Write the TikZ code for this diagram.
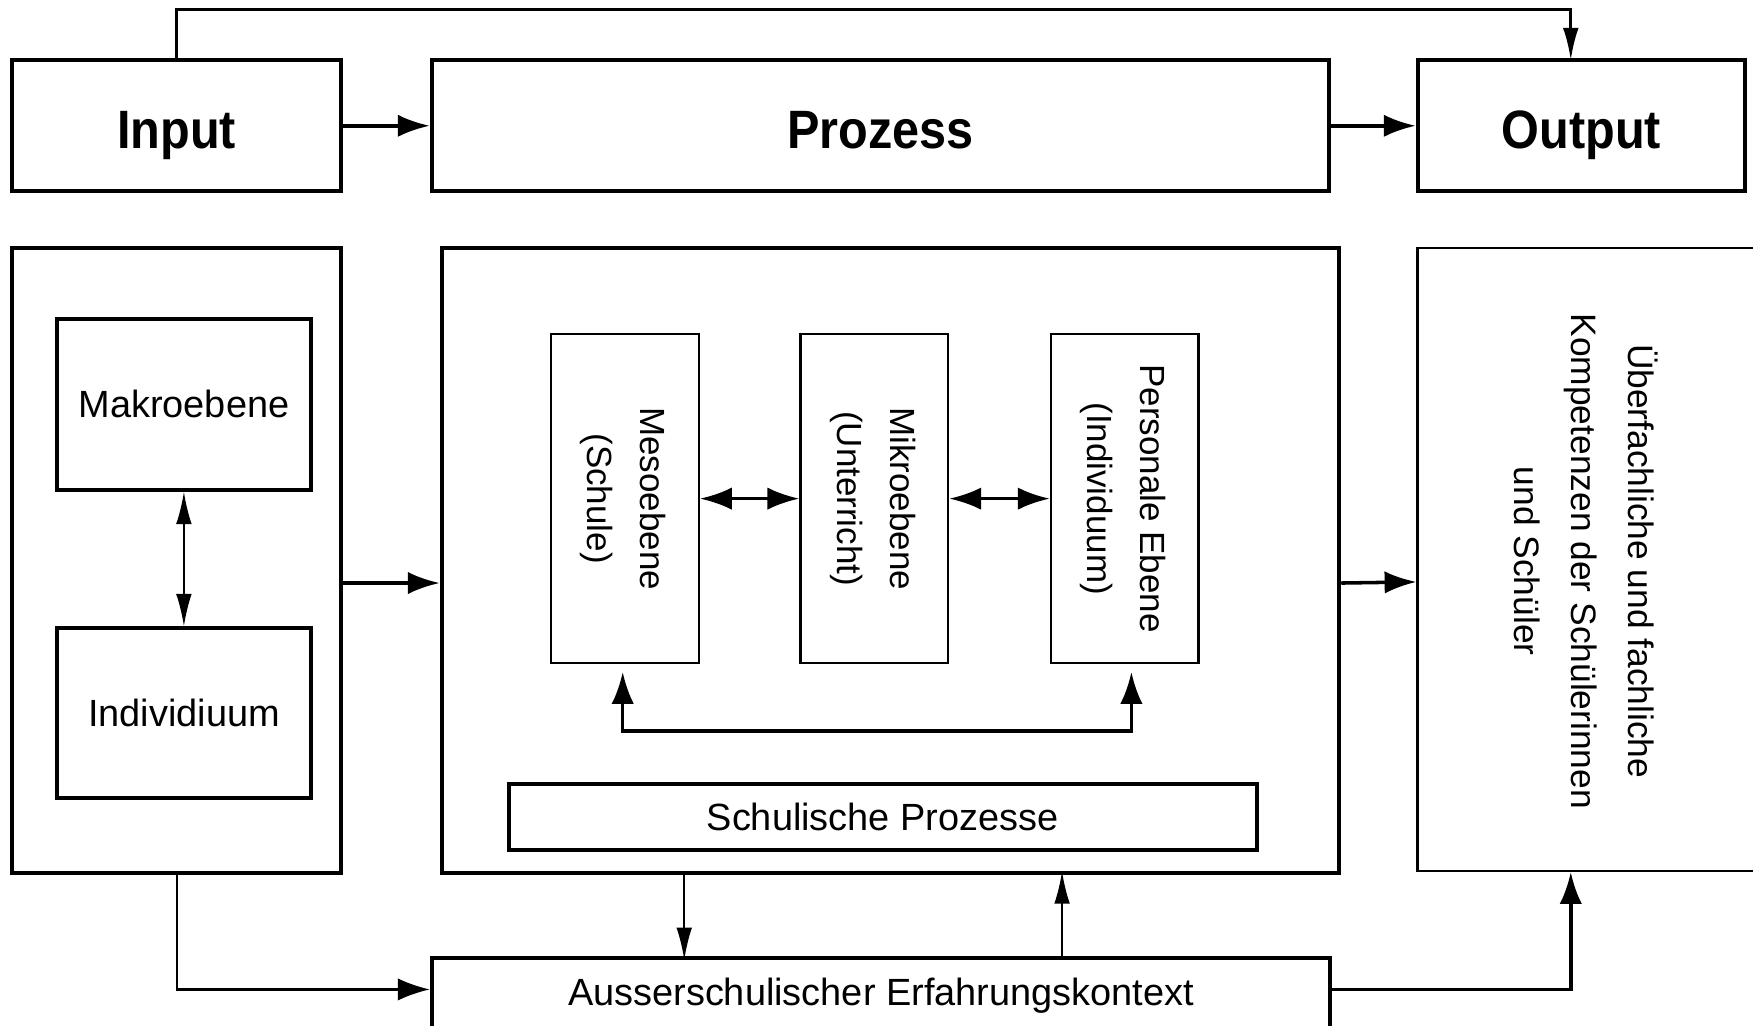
\documentclass[tikz,border=0pt]{standalone}
\usepackage{fontspec}
\setmainfont{Liberation Sans}
\newfontfamily\headfont[FakeStretch=0.9]{Liberation Sans Bold}
\usetikzlibrary{arrows.meta}

\begin{document}
\begin{tikzpicture}[x=0.02cm,y=-0.02cm,
  box/.style={draw,line width=2pt,inner sep=0pt,align=center},
  ebox/.style={draw,line width=1.2pt,inner sep=0pt,align=center},
  fat/.style={line width=1.8pt,>={Latex[length=0.57cm,width=0.4cm]}},
  slim/.style={line width=1.1pt,>={Latex[length=0.58cm,width=0.28cm]}},
  headtext/.style={font=\headfont\fontsize{27.5}{32}\selectfont,text height=23pt,text depth=0pt},
  bodytext/.style={font=\fontsize{19.3}{23}\selectfont},
  vtext/.style={font=\fontsize{17.8}{27}\selectfont},
  wtext/.style={font=\fontsize{18}{29}\selectfont}]
  \useasboundingbox (0,0) rectangle (1568,917);
  \node[box,headtext,minimum width=5.88cm,minimum height=2.34cm] (input) at (158,112.5) {Input};
  \node[box,headtext,minimum width=16.06cm,minimum height=2.34cm] (prozess) at (787.5,112.5) {Prozess};
  \node[box,headtext,minimum width=5.86cm,minimum height=2.34cm] (output) at (1414.5,112.5) {Output};
  \node[box,minimum width=5.88cm,minimum height=11.18cm] (inframe) at (158,501.5) {};
  \node[box,bodytext,minimum width=4.54cm,minimum height=3.06cm] (makro) at (164.5,361.5) {Makroebene};
  \node[box,bodytext,minimum width=4.54cm,minimum height=3.04cm] (indiv) at (164.5,638) {Individiuum};
  \node[box,minimum width=16.06cm,minimum height=11.18cm] (procframe) at (796.5,501.5) {};
  \node[ebox,vtext,minimum width=2.64cm,minimum height=5.88cm] (meso) at (559,446)
    {\rotatebox{-90}{\begin{tabular}{@{}c@{}}Mesoebene\\(Schule)\end{tabular}}};
  \node[ebox,vtext,minimum width=2.64cm,minimum height=5.88cm] (mikro) at (782,446)
    {\rotatebox{-90}{\begin{tabular}{@{}c@{}}Mikroebene\\(Unterricht)\end{tabular}}};
  \node[ebox,vtext,minimum width=2.64cm,minimum height=5.88cm] (person) at (1006,446)
    {\rotatebox{-90}{\begin{tabular}{@{}c@{}}Personale Ebene\\(Individuum)\end{tabular}}};
  \node[box,bodytext,minimum width=13.38cm,minimum height=1.18cm] (schul) at (789.5,730.5) {Schulische Prozesse};
  \node[ebox,minimum width=6.64cm,minimum height=11.14cm] (outframe) at (1434,500.5) {};
  \node[wtext,inner sep=0pt] (outtext) at (1416,502)
    {\rotatebox{-90}{\begin{tabular}{@{}c@{}}Überfachliche und fachliche\\Kompetenzen der Schülerinnen\\und Schüler\end{tabular}}};
  \node[box,bodytext,minimum width=16.08cm,minimum height=1.36cm] (aus) at (788,891) {Ausserschulischer Erfahrungskontext};
  \coordinate (outin) at (1405,54);

  \draw[slim,->,line width=1.6pt] (input.north) -- ++(0,-44) -| (outin);
  \draw[fat,->] (input.east) -- (prozess.west);
  \draw[fat,->] (prozess.east) -- (output.west);
  \draw[slim,<->] (makro.south) -- (indiv.north);
  \draw[fat,->] ([yshift=-0.4cm]inframe.east) -- ([yshift=-0.4cm]procframe.west);
  \draw[fat,->] ([yshift=-0.4cm]procframe.east) -- ([yshift=-0.4cm]outframe.west);
  \draw[fat,<->] (meso.east) -- (mikro.west);
  \draw[fat,<->] (mikro.east) -- (person.west);
  \draw[fat,<->,shorten <=0.14cm,shorten >=0.14cm] ([xshift=-0.04cm]meso.south) -- ++(0,60) -| ([xshift=0.12cm]person.south);
  \draw[slim,->] ([xshift=-3.69cm]procframe.south) -- ++(0,76);
  \draw[slim,->] ([xshift=3.24cm]aus.north) -- ++(0,-76);
  \draw[fat,->,line width=1.1pt] (inframe.south) |- ([yshift=0.12cm]aus.west);
  \draw[fat,->] ([yshift=0.12cm]aus.east) -| ([xshift=-0.58cm]outframe.south);
\end{tikzpicture}
\end{document}
